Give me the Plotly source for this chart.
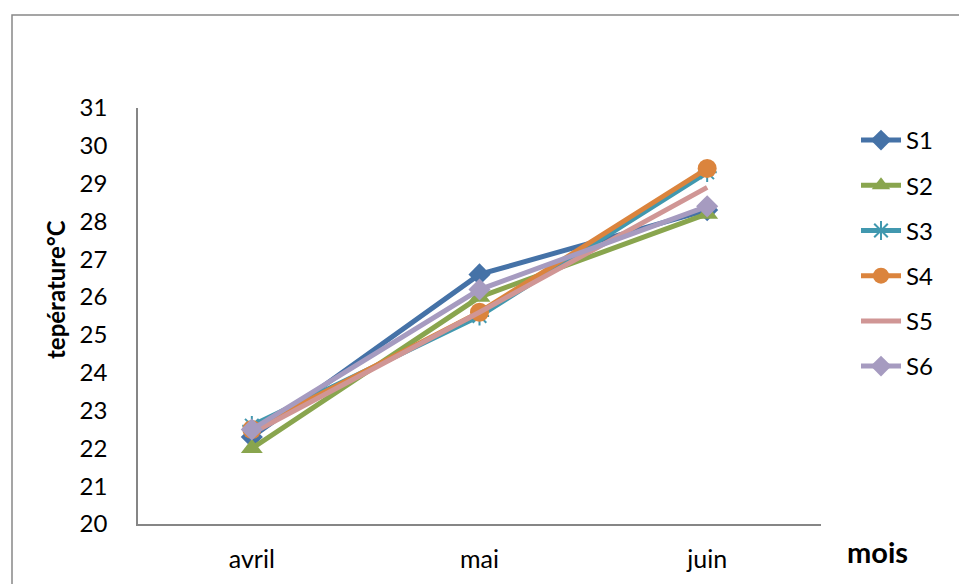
import plotly.graph_objects as go

months = ["avril", "mai", "juin"]
S1 = [22.3, 26.6, 28.3]
S2 = [22.0, 26.0, 28.2]
S3 = [22.6, 25.5, 29.3]
S4 = [22.5, 25.6, 29.4]
S5 = [22.4, 25.6, 28.9]
S6 = [22.5, 26.2, 28.4]
y_ticks = list(range(20, 32))

series = [
    ("S1", S1, "#4572A7", "diamond", 17),
    ("S2", S2, "#89A54E", "triangle-up", 19),
    ("S3", S3, "#4198AF", "asterisk-open", 16),
    ("S4", S4, "#DB843D", "circle", 19),
    ("S5", S5, "#D09695", None, 0),
    ("S6", S6, "#A69BC0", "diamond", 17),
]

W, H = 959, 584
# plot area in page pixel coordinates
L, R, T, B = 138, 821, 108, 524
pw, ph = R - L, B - T

def px(x):
    return (x - L) / pw

def py(y):
    return (B - y) / ph

fig = go.Figure()
for i, (name, vals, color, sym, size) in enumerate(series):
    if sym:
        marker = dict(symbol=sym, size=size, color=color,
                      line=dict(color=color, width=2 if sym == "asterisk-open" else 0))
        mode = "lines+markers"
    else:
        marker = None
        mode = "lines"
    fig.add_trace(go.Scatter(
        x=months, y=vals, name=name, mode=mode,
        line=dict(color=color, width=5),
        marker=marker, legendgroup=name,
    ))

font_family = "Lato, 'Open Sans', sans-serif"

fig.update_layout(
    width=W, height=H,
    margin=dict(l=L, r=W - R, t=T, b=H - B, autoexpand=False),
    paper_bgcolor="white", plot_bgcolor="white",
    font=dict(family=font_family, size=24, color="#000"),
    showlegend=True,
    legend=dict(x=px(856), y=py(118), xanchor="left", yanchor="top",
                font=dict(size=24), tracegroupgap=11, itemwidth=40,
                bgcolor="rgba(0,0,0,0)"),
    xaxis=dict(showgrid=False, zeroline=False, showline=True, automargin=False,
               linecolor="#868686", linewidth=1.5, ticks="",
               ticklabelstandoff=12, tickfont=dict(size=25),
               range=[-0.5, 2.5]),
    yaxis=dict(showgrid=False, zeroline=False, showline=True, automargin=False,
               linecolor="#868686", linewidth=1.5, ticks="",
               range=[20, 31], tickvals=y_ticks,
               ticklabelstandoff=24, tickfont=dict(size=24)),
    annotations=[
        dict(text="<b>mois</b>", x=px(877), y=py(551), xref="paper", yref="paper",
             showarrow=False, font=dict(size=29), xanchor="center", yanchor="middle"),
        dict(text="<b>tepérature°C</b>", x=px(55), y=py(290), xref="paper", yref="paper",
             showarrow=False, textangle=-90, font=dict(size=24),
             xanchor="center", yanchor="middle"),
    ],
    shapes=[
        dict(type="rect", xref="paper", yref="paper",
             x0=px(12), y0=py(15), x1=px(W + 30), y1=py(H + 30),
             line=dict(color="#888888", width=1.5), layer="below"),
    ],
)

fig.write_html(
    "out.html",
    config={"displayModeBar": False},
    post_script="document.body.style.margin='0';document.body.style.overflow='hidden';",
)
